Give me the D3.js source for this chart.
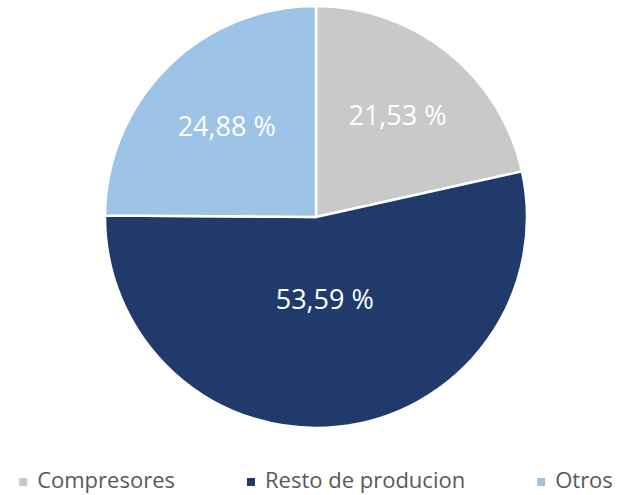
<!DOCTYPE html>
<html>
<head>
<meta charset="utf-8">
<script src="https://cdn.jsdelivr.net/npm/d3@7"></script>
<style>
  body { margin: 0; background: #fff; }
  svg { display: block; }
</style>
</head>
<body>
<svg id="chart" width="618" height="495"></svg>
<script>
// data
const categories = ["Compresores", "Resto de producion", "Otros"];
const shares = [21.53, 53.59, 24.88];
const colors = ["#c9c9c9", "#1f3a6b", "#9dc3e6"];

const width = 618;
const height = 495;
const center = { x: 316, y: 217 };
const radius = 211;

const svg = d3.select("#chart");
const g = svg.append("g").attr("transform", `translate(${center.x},${center.y})`);

const data = categories.map((c, i) => ({ name: c, value: shares[i], color: colors[i] }));

const pie = d3.pie().sort(null).value(d => d.value);
const arc = d3.arc().innerRadius(0).outerRadius(radius);

const arcs = pie(data);

g.selectAll(".slice")
    .data(arcs)
    .enter()
    .append("path")
    .attr("class", "slice")
    .attr("d", arc)
    .attr("fill", d => d.data.color)
    .attr("stroke", "#fff")
    .attr("stroke-width", 2.5)
    .attr("stroke-linejoin", "round");

// put the label on the geometric centroid of each sector
function sectorCentroid(d) {
    let theta = d.endAngle - d.startAngle;
    let dist = (2 * radius * Math.sin(theta / 2)) / (1.5 * theta);
    let mid = (d.startAngle + d.endAngle) / 2;
    return [dist * Math.sin(mid), -dist * Math.cos(mid)];
}

function fmt(v) {
    return v.toFixed(2).replace(".", ",") + " %";
}

g.selectAll(".lbl")
    .data(arcs)
    .enter()
    .append("text")
    .attr("class", "lbl")
    .attr("x", d => sectorCentroid(d)[0])
    .attr("y", d => sectorCentroid(d)[1])
    .attr("dy", "0.35em")
    .attr("text-anchor", "middle")
    .style("font-family", "'Open Sans', sans-serif")
    .style("font-size", "27px")
    .attr("fill", "#fff")
    .text(d => fmt(d.data.value));

// legend, centred under the pie
const sq = 8;
const gapText = 10;
const gapItem = 72;
const legendBaseline = 488;

let legend = svg.append("g").attr("class", "legend");
let items = legend.selectAll(".item")
    .data(data)
    .enter()
    .append("g")
    .attr("class", "item");

items.append("rect")
    .attr("width", sq)
    .attr("height", sq)
    .attr("y", legendBaseline - 10)
    .attr("fill", d => d.color);

items.append("text")
    .attr("x", sq + gapText)
    .attr("y", legendBaseline)
    .style("font-family", "'Open Sans', sans-serif")
    .style("font-size", "22px")
    .attr("fill", "#595959")
    .text(d => d.name);

let widths = [];
items.each(function() {
    widths.push(sq + gapText + d3.select(this).select("text").node().getComputedTextLength());
});
let total = d3.sum(widths) + gapItem * (widths.length - 1);
let xpos = center.x - total / 2;
items.attr("transform", (d, i) => {
    let x = xpos;
    xpos += widths[i] + gapItem;
    return `translate(${x},0)`;
});
</script>
</body>
</html>
